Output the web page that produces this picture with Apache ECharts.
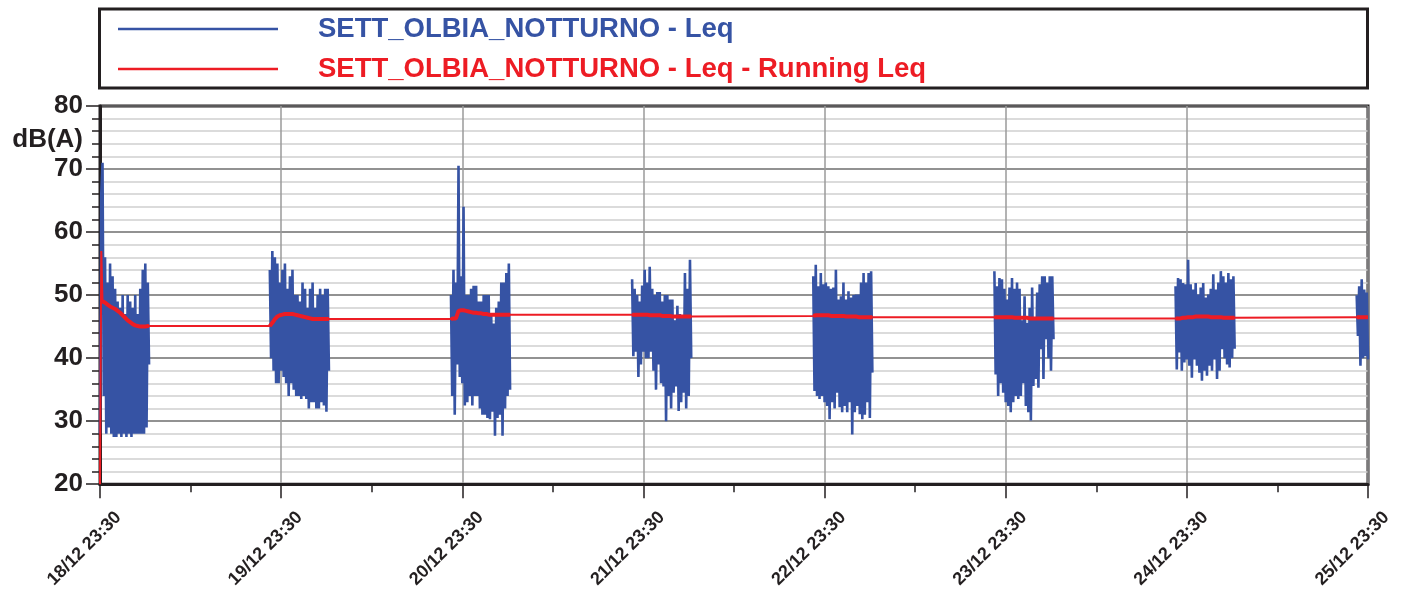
<!DOCTYPE html>
<html>
<head>
<meta charset="utf-8">
<script src="https://cdn.jsdelivr.net/npm/echarts@6/dist/echarts.min.js"></script>
<style>
  html, body { margin: 0; padding: 0; background: #fff; }
  #chart { width: 1409px; height: 591px; }
</style>
</head>
<body>
<div id="chart"></div>
<script>
// x axis: hours after 18/12 23:30, one tick per day
const tickLabels = ["18/12 23:30", "19/12 23:30", "20/12 23:30", "21/12 23:30",
  "22/12 23:30", "23/12 23:30", "24/12 23:30", "25/12 23:30"];
const stepMinutes = 10;
// start of each night measurement (hours after 18/12 23:30)
const nightStartHours = [0, 22.5, 46.5, 70.5, 94.5, 118.5, 142.5, 166.5];

// Leq (dB(A)), one value per 10 minutes
const leqNight1 = [28, 66, 71, 34, 56, 28, 52, 29, 55, 28, 53, 27.5, 51, 27.5, 49, 28, 48, 27.5, 50, 28,
  47, 27.5, 50, 28, 49, 27.5, 48, 28, 50, 28, 47, 28, 51, 28, 54, 28, 55, 29, 52, 39];
const leqNight2 = [54, 40, 57, 38, 56, 36, 55, 36, 52, 38, 54, 37, 55, 36, 51, 34, 53, 36, 54, 35, 50, 34, 50, 34,
  49, 33.5, 52, 34, 51, 33.5, 48, 32, 51, 33, 52, 33, 48, 32, 50, 32, 51, 33, 50, 32.5, 51, 31.5, 51, 38];
const leqNight3 = [50, 34, 54, 31, 52, 39, 70.5, 37, 53, 36, 64, 32.5, 50, 33, 50, 34, 51, 32.5, 51.5, 34, 51.5, 34, 49, 32,
  49, 31, 50, 31, 50, 30.5, 50, 30.3, 47, 31.5, 45.5, 27.7, 48, 30.5, 49, 31, 52, 27.7, 52, 32, 53.5, 34, 55, 35];
const leqNight4 = [52.5, 40.3, 51, 41, 50, 37, 49, 39, 51.5, 41, 54, 40, 52, 40, 54.5, 41, 51, 38, 50, 35, 50.5, 39, 50.5, 36,
  49, 35.5, 50, 30, 50, 34, 49.3, 32, 49.3, 34.5, 46, 35.5, 48.3, 31.6, 47, 33, 46.7, 34.5, 53.5, 32, 51, 34, 55.6, 40];
const leqNight5 = [53, 34.8, 54.8, 34, 51.4, 33.5, 53.5, 34, 51.7, 33, 52, 32.4, 51.4, 30.3, 51, 33, 51.2, 32, 54, 34.5, 49.3, 32.2, 49.8, 31.4,
  52, 32.4, 49.3, 31.4, 50.6, 33, 49.6, 27.9, 50, 31.4, 50.1, 32.4, 50.1, 31.1, 52, 30.3, 53.5, 31, 52, 33, 53.5, 30.5, 53.8, 37.7];
const leqNight6 = [53.8, 37.4, 51.4, 34, 52.7, 36, 52.5, 34.5, 51, 33, 49.3, 32.4, 51.2, 31.4, 52.7, 33, 51, 34, 52, 33.5, 51, 34, 46, 36,
  49.8, 32.4, 45.6, 31.4, 48, 30.1, 51.2, 35.6, 46.4, 36.7, 50.4, 35.3, 51.7, 41.4, 53, 36.7, 53, 43, 52, 40, 53, 38, 53, 43];
const leqNight7 = [51.4, 38.2, 52.7, 40.9, 52.5, 38, 51.9, 39.3, 51.7, 39.8, 55.6, 38.8, 51.7, 36.9, 50.9, 39.8, 51.9, 38.8, 50.1, 37.7, 51.2, 36.4, 51.9, 38,
  49.6, 37.2, 50.1, 38.8, 51, 38, 53.3, 39.8, 50.9, 36.7, 52, 38, 53.8, 41.4, 53, 40, 52, 39, 53.5, 38.5, 52.5, 40, 53, 41.5];
const leqNight8 = [50, 43.5, 51.4, 38.8, 52.5, 40, 50.9, 40.3, 50.4, 39.8];

// Running Leq (dB(A)), same time steps
const runNight1 = [20, 57, 49, 49, 48.8, 48.6, 48.5, 48.3, 48.2, 48.1, 48, 47.9, 47.8, 47.6, 47.5, 47.3, 47.2, 47, 46.8, 46.6,
  46.4, 46.2, 46, 45.8, 45.7, 45.5, 45.4, 45.3, 45.2, 45.1, 45.1, 45, 45, 45, 45, 45, 45, 45.1, 45.1, 45.1];
const runNight2 = [45.1, 45.3, 45.6, 45.9, 46.2, 46.4, 46.6, 46.7, 46.8, 46.9, 46.9, 47, 47, 47, 47, 47, 47, 47, 47, 46.9, 46.9, 46.8, 46.8, 46.7,
  46.7, 46.6, 46.6, 46.5, 46.5, 46.4, 46.4, 46.3, 46.3, 46.3, 46.2, 46.2, 46.2, 46.2, 46.2, 46.2, 46.2, 46.2, 46.2, 46.2, 46.2, 46.2, 46.2, 46.2];
const runNight3 = [46.2, 46.2, 46.3, 46.3, 46.3, 46.3, 47.5, 47.6, 47.6, 47.6, 47.6, 47.5, 47.5, 47.4, 47.4, 47.3, 47.3, 47.3, 47.2, 47.2, 47.2, 47.1, 47.1, 47.1,
  47.1, 47, 47, 47, 47, 46.9, 46.9, 46.9, 46.9, 46.9, 46.9, 46.9, 46.9, 46.9, 46.9, 46.9, 46.9, 46.9, 46.9, 46.9, 46.9, 46.9, 46.9, 46.9];
const runNight4 = [46.9, 46.9, 46.9, 46.9, 46.9, 46.9, 46.9, 46.9, 46.9, 46.9, 46.9, 46.9, 46.9, 46.9, 46.8, 46.8, 46.8, 46.8, 46.8, 46.8, 46.8, 46.8, 46.8, 46.8,
  46.7, 46.7, 46.7, 46.7, 46.7, 46.7, 46.7, 46.7, 46.6, 46.6, 46.6, 46.6, 46.6, 46.6, 46.6, 46.6, 46.6, 46.6, 46.6, 46.6, 46.6, 46.6, 46.6, 46.6];
const runNight5 = [46.7, 46.8, 46.8, 46.8, 46.8, 46.8, 46.8, 46.8, 46.8, 46.8, 46.8, 46.8, 46.8, 46.8, 46.7, 46.7, 46.7, 46.7, 46.7, 46.7, 46.7, 46.7, 46.7, 46.7,
  46.7, 46.7, 46.6, 46.6, 46.6, 46.6, 46.6, 46.6, 46.6, 46.6, 46.6, 46.6, 46.5, 46.5, 46.5, 46.5, 46.5, 46.5, 46.5, 46.5, 46.5, 46.5, 46.5, 46.5];
const runNight6 = [46.5, 46.5, 46.5, 46.5, 46.5, 46.5, 46.5, 46.5, 46.5, 46.5, 46.5, 46.5, 46.5, 46.5, 46.5, 46.5, 46.4, 46.4, 46.4, 46.4, 46.4, 46.4, 46.4, 46.4,
  46.4, 46.4, 46.4, 46.4, 46.3, 46.3, 46.3, 46.3, 46.3, 46.3, 46.3, 46.3, 46.3, 46.3, 46.3, 46.3, 46.3, 46.3, 46.3, 46.3, 46.3, 46.3, 46.3, 46.3];
const runNight7 = [46.3, 46.3, 46.3, 46.3, 46.3, 46.3, 46.4, 46.4, 46.4, 46.4, 46.5, 46.5, 46.5, 46.5, 46.5, 46.5, 46.6, 46.6, 46.6, 46.6, 46.6, 46.6, 46.6, 46.6,
  46.6, 46.6, 46.6, 46.6, 46.5, 46.5, 46.5, 46.5, 46.5, 46.5, 46.5, 46.5, 46.5, 46.5, 46.4, 46.4, 46.4, 46.4, 46.4, 46.4, 46.4, 46.4, 46.4, 46.4];
const runNight8 = [46.5, 46.5, 46.5, 46.5, 46.5, 46.5, 46.5, 46.5, 46.5, 46.5];

const leqName = "SETT_OLBIA_NOTTURNO - Leq";
const runName = "SETT_OLBIA_NOTTURNO - Leq - Running Leq";

const leqNights = [leqNight1, leqNight2, leqNight3, leqNight4, leqNight5, leqNight6, leqNight7, leqNight8];
const runNights = [runNight1, runNight2, runNight3, runNight4, runNight5, runNight6, runNight7, runNight8];

function nightPoints(values, k) {
  return values.map((v, i) => [nightStartHours[k] + (i * stepMinutes) / 60, v]);
}

// blue: break between nights; red: continuous; red night overlay: thicker, broken
let leqData = [], runData = [], runNightData = [];
leqNights.forEach((vals, k) => {
  if (k > 0) leqData.push([nightStartHours[k] - 1, "-"]);
  leqData = leqData.concat(nightPoints(vals, k));
});
runNights.forEach((vals, k) => {
  runData = runData.concat(nightPoints(vals, k));
  if (k > 0) runNightData.push([nightStartHours[k] - 1, "-"]);
  // first night overlay starts after the initial rise, which stays thin
  runNightData = runNightData.concat(nightPoints(vals, k).slice(k === 0 ? 2 : 0));
});

const FONT = "Liberation Sans";
const INK = "#231f20";
const BLUE = "#3653a4";
const RED = "#ed1c24";

const chart = echarts.init(document.getElementById("chart"));
chart.setOption({
  animation: false,
  backgroundColor: "#fff",
  grid: {
    left: 100, right: 41, top: 106, bottom: 106,
    show: true, borderColor: INK, borderWidth: 3
  },
  legend: {
    data: [
      { name: leqName, textStyle: { color: BLUE } },
      { name: runName, textStyle: { color: RED } }
    ],
    orient: "vertical",
    left: 118, top: 14,
    padding: 0,
    icon: "rect",
    itemWidth: 160, itemHeight: 2.5,
    itemGap: 10,
    selectedMode: false,
    textStyle: {
      fontFamily: FONT, fontWeight: "bold", fontSize: 27.5,
      lineHeight: 30, padding: [0, 0, 0, 35]
    }
  },
  graphic: [
    {
      type: "rect",
      shape: { x: 99.5, y: 9, width: 1268, height: 79 },
      style: { fill: "none", stroke: INK, lineWidth: 3 }
    },
    {
      type: "text",
      x: 83, y: 140,
      style: {
        text: "dB(A)", fill: INK, align: "right", verticalAlign: "middle",
        font: "bold 26px " + FONT
      }
    }
  ],
  xAxis: {
    type: "value",
    min: 0, max: 168, interval: 24,
    axisLine: { lineStyle: { color: INK, width: 3 } },
    axisTick: { show: true, length: 14, lineStyle: { color: INK, width: 1.5 } },
    minorTick: { show: true, splitNumber: 2, length: 8, lineStyle: { color: INK, width: 1.5 } },
    splitLine: { show: true, lineStyle: { color: "#9a9a9a", width: 1.5 } },
    axisLabel: {
      rotate: 45, margin: 12,
      verticalAlign: "top", padding: [17, 0, 0, 0],
      fontFamily: FONT, fontWeight: "bold", fontSize: 18, color: INK,
      formatter: (v) => tickLabels[Math.round(v / 24)]
    }
  },
  yAxis: {
    type: "value",
    min: 20, max: 80, interval: 10,
    axisLine: { show: true, lineStyle: { color: INK, width: 3 } },
    axisTick: { show: true, length: 14, lineStyle: { color: INK, width: 1.5 } },
    minorTick: { show: true, splitNumber: 5, length: 8, lineStyle: { color: INK, width: 1.5 } },
    splitLine: { show: true, lineStyle: { color: "#6e6e6e", width: 1.5 } },
    minorSplitLine: { show: true, lineStyle: { color: "#cfcfcf", width: 1.5 } },
    axisLabel: {
      margin: 17, padding: [4, 0, 0, 0],
      fontFamily: FONT, fontWeight: "bold", fontSize: 26, color: INK
    }
  },
  series: [
    {
      name: leqName, type: "line", data: leqData,
      color: BLUE, showSymbol: false, symbol: "none",
      connectNulls: false,
      lineStyle: { color: BLUE, width: 2.6 },
      z: 2
    },
    {
      name: runName, type: "line", data: runData,
      color: RED, showSymbol: false, symbol: "none",
      lineStyle: { color: RED, width: 2 },
      z: 3
    },
    {
      name: "running-night", type: "line", data: runNightData,
      color: RED, showSymbol: false, symbol: "none",
      connectNulls: false,
      lineStyle: { color: RED, width: 4 },
      z: 4
    }
  ]
});
</script>
</body>
</html>
